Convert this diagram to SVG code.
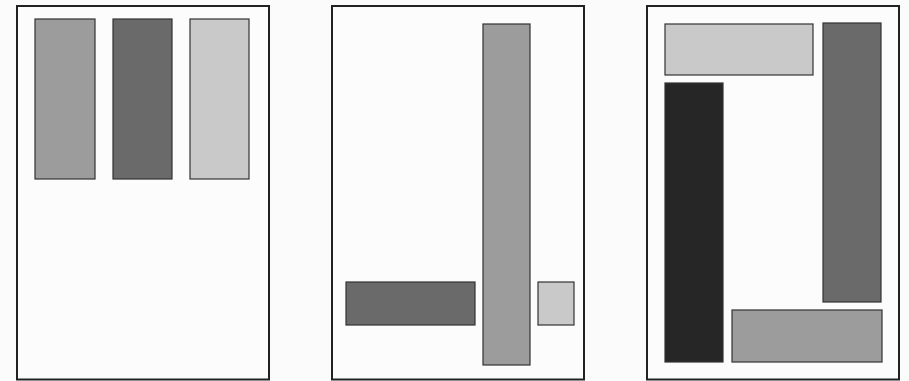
<svg xmlns="http://www.w3.org/2000/svg" width="909" height="381" viewBox="0 0 909 381">
<style>
.frame{fill:#fcfcfc;stroke:#222;stroke-width:2}
.bar{stroke:#333;stroke-width:1.2}
.mid{fill:#9c9c9c}
.dark{fill:#6a6a6a}
.light{fill:#c9c9c9}
.black{fill:#262626}
</style>
<rect x="0" y="0" width="909" height="381" fill="#fbfbfb"/>
<g id="panel1">
<rect class="frame" x="17" y="6" width="252" height="373.5"/>
<rect class="bar mid" x="35" y="19" width="60" height="160"/>
<rect class="bar dark" x="113" y="19" width="59" height="160"/>
<rect class="bar light" x="190" y="19" width="59" height="160"/>
</g>
<g id="panel2">
<rect class="frame" x="332" y="6" width="252" height="373.5"/>
<rect class="bar mid" x="483" y="24" width="47" height="341"/>
<rect class="bar dark" x="346" y="282" width="129" height="43"/>
<rect class="bar light" x="538" y="282" width="36" height="43"/>
</g>
<g id="panel3">
<rect class="frame" x="647" y="6" width="252" height="373.5"/>
<rect class="bar light" x="665" y="24" width="148" height="51"/>
<rect class="bar black" x="665" y="83" width="58" height="279"/>
<rect class="bar dark" x="823" y="23" width="58" height="279"/>
<rect class="bar mid" x="732" y="310" width="150" height="52"/>
</g>
</svg>
